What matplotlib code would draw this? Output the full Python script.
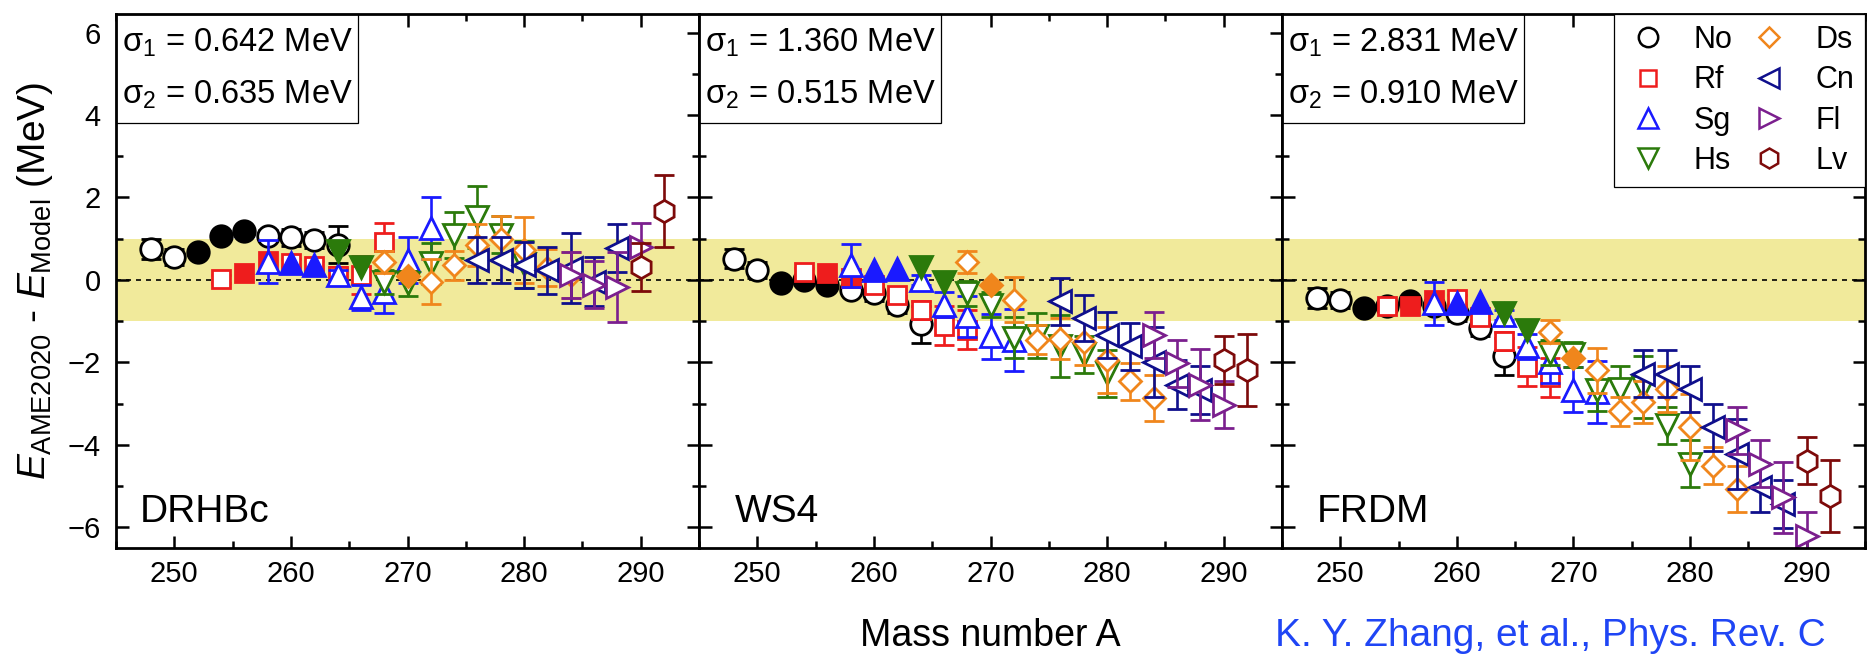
import matplotlib
matplotlib.use('Agg')
import matplotlib.pyplot as plt
from matplotlib.lines import Line2D
from matplotlib.patches import Rectangle
from matplotlib.ticker import MultipleLocator
import numpy as np

plt.rcParams['font.family'] = ['Liberation Sans', 'DejaVu Sans']
plt.rcParams['mathtext.fontset'] = 'custom'
plt.rcParams['mathtext.rm'] = 'Liberation Sans'
plt.rcParams['mathtext.it'] = 'Liberation Sans:italic'
plt.rcParams['mathtext.bf'] = 'Liberation Sans:bold'

# ---------------- data ----------------
elements = ['No', 'Rf', 'Sg', 'Hs', 'Ds', 'Cn', 'Fl', 'Lv']

A_vals = {
    'No': [248, 250, 252, 254, 256, 258, 260, 262, 264],
    'Rf': [254, 256, 258, 260, 262, 264, 266, 268],
    'Sg': [258, 260, 262, 264, 266, 268, 270, 272],
    'Hs': [264, 266, 268, 270, 272, 274, 276, 278, 280],
    'Ds': [268, 270, 272, 274, 276, 278, 280, 282, 284],
    'Cn': [276, 278, 280, 282, 284, 286, 288],
    'Fl': [284, 286, 288, 290],
    'Lv': [290, 292],
}

filled = {
    'No': [0, 0, 1, 1, 1, 0, 0, 0, 0],
    'Rf': [0, 1, 1, 0, 0, 0, 0, 0],
    'Sg': [0, 1, 1, 0, 0, 0, 0, 0],
    'Hs': [1, 1, 0, 0, 0, 0, 0, 0, 0],
    'Ds': [0, 1, 0, 0, 0, 0, 0, 0, 0],
    'Cn': [0, 0, 0, 0, 0, 0, 0],
    'Fl': [0, 0, 0, 0],
    'Lv': [0, 0],
}

err = {
    'No': [0.24, 0.20, 0.0, 0.0, 0.0, 0.13, 0.20, 0.20, 0.45],
    'Rf': [0.10, 0.0, 0.0, 0.10, 0.12, 0.22, 0.47, 0.47],
    'Sg': [0.52, 0.0, 0.0, 0.12, 0.30, 0.50, 0.55, 0.75],
    'Hs': [0.0, 0.0, 0.30, 0.30, 0.50, 0.55, 0.75, 0.45, 0.57],
    'Ds': [0.27, 0.0, 0.55, 0.35, 0.50, 0.55, 0.80, 0.45, 0.55],
    'Cn': [0.56, 0.56, 0.56, 0.57, 0.85, 0.60, 0.58],
    'Fl': [0.56, 0.57, 0.86, 0.58],
    'Lv': [0.58, 0.87],
}

drhbc = {
    'No': [0.75, 0.56, 0.67, 1.07, 1.19, 1.07, 1.03, 0.97, 0.85],
    'Rf': [0.02, 0.18, 0.47, 0.42, 0.34, 0.10, 0.12, 0.92],
    'Sg': [0.44, 0.40, 0.36, 0.12, -0.42, -0.30, 0.48, 1.25],
    'Hs': [0.71, 0.32, -0.05, -0.08, 0.40, 1.09, 1.53, 1.10, 0.38],
    'Ds': [0.44, 0.10, -0.04, 0.36, 0.85, 1.00, 0.73, 0.30, 0.12],
    'Cn': [0.48, 0.48, 0.36, 0.24, 0.28, -0.04, 0.77],
    'Fl': [0.12, -0.12, -0.17, 0.81],
    'Lv': [0.31, 1.68],
}

ws4 = {
    'No': [0.52, 0.24, -0.08, 0.00, -0.12, -0.24, -0.32, -0.60, -1.07],
    'Rf': [0.20, 0.16, 0.05, -0.12, -0.36, -0.73, -1.11, -1.21],
    'Sg': [0.36, 0.24, 0.26, 0.00, -0.60, -0.88, -1.37, -1.45],
    'Hs': [0.32, -0.04, -0.32, -0.60, -1.40, -1.35, -1.60, -1.80, -2.26],
    'Ds': [0.44, -0.12, -0.48, -1.45, -1.42, -1.50, -1.94, -2.46, -2.86],
    'Cn': [-0.52, -0.93, -1.33, -1.61, -1.98, -2.54, -2.66],
    'Fl': [-1.33, -2.02, -2.54, -3.02],
    'Lv': [-1.94, -2.18],
}

frdm = {
    'No': [-0.44, -0.48, -0.69, -0.62, -0.52, -0.62, -0.80, -1.17, -1.85],
    'Rf': [-0.63, -0.63, -0.48, -0.46, -0.89, -1.49, -2.10, -2.36],
    'Sg': [-0.57, -0.57, -0.53, -0.85, -1.61, -2.00, -2.66, -2.71],
    'Hs': [-0.79, -1.21, -1.76, -1.80, -2.68, -2.64, -2.60, -3.52, -4.46],
    'Ds': [-1.25, -1.90, -2.19, -3.18, -2.96, -2.64, -3.57, -4.50, -5.07],
    'Cn': [-2.27, -2.27, -2.64, -3.57, -4.22, -5.03, -5.43],
    'Fl': [-3.65, -4.46, -5.27, -6.20],
    'Lv': [-4.38, -5.23],
}

model_names = ['DRHBc', 'WS4', 'FRDM']
model_data = [drhbc, ws4, frdm]
sigma1 = ['0.642', '1.360', '2.831']
sigma2 = ['0.635', '0.515', '0.910']

# ---------------- style ----------------
colors = {'No': '#000000', 'Rf': '#ee1d1d', 'Sg': '#1a1aff', 'Hs': '#2b7a0b',
          'Ds': '#f0861c', 'Cn': '#0f0f8c', 'Fl': '#7b1f8e', 'Lv': '#7d0a0a'}
markers = {'No': 'o', 'Rf': 's', 'Sg': '^', 'Hs': 'v',
           'Ds': 'D', 'Cn': '<', 'Fl': '>', 'Lv': 'h'}
msize = {'No': 15.5, 'Rf': 13.5, 'Sg': 16.5, 'Hs': 16.5,
         'Ds': 11.5, 'Cn': 16.5, 'Fl': 16.5, 'Lv': 16}
band_color = '#f1ea9b'

W, H = 1867, 655
fig = plt.figure(figsize=(W / 100, H / 100), dpi=100)
left0 = 116 / W
pw = 583 / W
bot = (H - 548) / H
top = (H - 14) / H
axes = []
for i in range(3):
    ax = fig.add_axes([left0 + i * pw, bot, pw, top - bot])
    axes.append(ax)

name_x = [0.04, 0.062, 0.06]

for i, ax in enumerate(axes):
    data = model_data[i]
    ax.axhspan(-1, 1, color=band_color, lw=0, zorder=0)
    ax.axhline(0, color='black', lw=1.2, ls=(0, (3, 3)), zorder=1)
    for k, el in enumerate(elements):
        A = np.array(A_vals[el], float)
        y = np.array(data[el], float)
        e = np.array(err[el], float)
        f = np.array(filled[el], bool)
        col = colors[el]
        z = 3 + k * 0.5
        ax.errorbar(A[~f], y[~f], yerr=e[~f], fmt=markers[el], ms=msize[el],
                    mfc='white', mec=col, mew=2.0, ecolor=col, elinewidth=1.9,
                    capsize=7, capthick=1.9, zorder=z)
        if f.any():
            ax.plot(A[f], y[f], ls='none', marker=markers[el], ms=msize[el],
                    mfc=col, mec=col, mew=2.0, zorder=z + 0.2)
    ax.set_xlim(245, 295)
    ax.set_ylim(-6.5, 6.45)
    ax.xaxis.set_major_locator(MultipleLocator(10))
    ax.xaxis.set_minor_locator(MultipleLocator(5))
    ax.yaxis.set_major_locator(MultipleLocator(2))
    ax.yaxis.set_minor_locator(MultipleLocator(1))
    ax.tick_params(which='major', direction='in', length=9, width=1.8,
                   top=True, right=True, labelsize=21)
    ax.tick_params(which='minor', direction='in', length=5, width=1.8,
                   top=True, right=True)
    ax.tick_params(axis='x', which='major', pad=9)
    ax.tick_params(axis='y', which='major', pad=11)
    if i > 0:
        ax.tick_params(labelleft=False)
    for sp in ax.spines.values():
        sp.set_linewidth(2)
        sp.set_zorder(20)

    # sigma box
    ax.add_patch(Rectangle((0, 0.796), 0.415, 0.204, transform=ax.transAxes,
                           fc='white', ec='black', lw=0.9, zorder=10, clip_on=False))
    ax.text(0.01, 0.946, 'σ$_{1}$ = %s MeV' % sigma1[i], transform=ax.transAxes,
            fontsize=23.5, ha='left', va='center', zorder=11)
    ax.text(0.01, 0.848, 'σ$_{2}$ = %s MeV' % sigma2[i], transform=ax.transAxes,
            fontsize=23.5, ha='left', va='center', zorder=11)
    ax.text(name_x[i], 0.049, model_names[i], transform=ax.transAxes,
            fontsize=28, ha='left', va='baseline', zorder=11)

# legend in last panel
handles = [Line2D([], [], ls='none', marker=markers[el], ms=msize[el] * 0.9,
                  mfc='white', mec=colors[el], mew=1.8) for el in elements]
leg = axes[2].legend(handles, elements, ncol=2, loc='upper right',
                     bbox_to_anchor=(1, 1), borderaxespad=0, fontsize=22,
                     frameon=True, fancybox=False, framealpha=1,
                     edgecolor='black', handlelength=1.5, handletextpad=0.75,
                     columnspacing=0.45, labelspacing=0.34, borderpad=0.36)
leg.get_frame().set_linewidth(0.9)
leg.set_zorder(30)

fig.text(0.019, (bot + top) / 2,
         r'$E_{\mathrm{AME2020}}$ - $E_{\mathrm{Model}}$ (MeV)',
         rotation=90, ha='center', va='center', fontsize=28)
fig.text(990 / W, 9 / H, 'Mass number A', ha='center', va='baseline', fontsize=27)
fig.text(1275 / W, 9 / H, 'K. Y. Zhang, et al., Phys. Rev. C',
         ha='left', va='baseline', fontsize=28, color='#1f45f5')

fig.savefig('out.png', dpi=100)
